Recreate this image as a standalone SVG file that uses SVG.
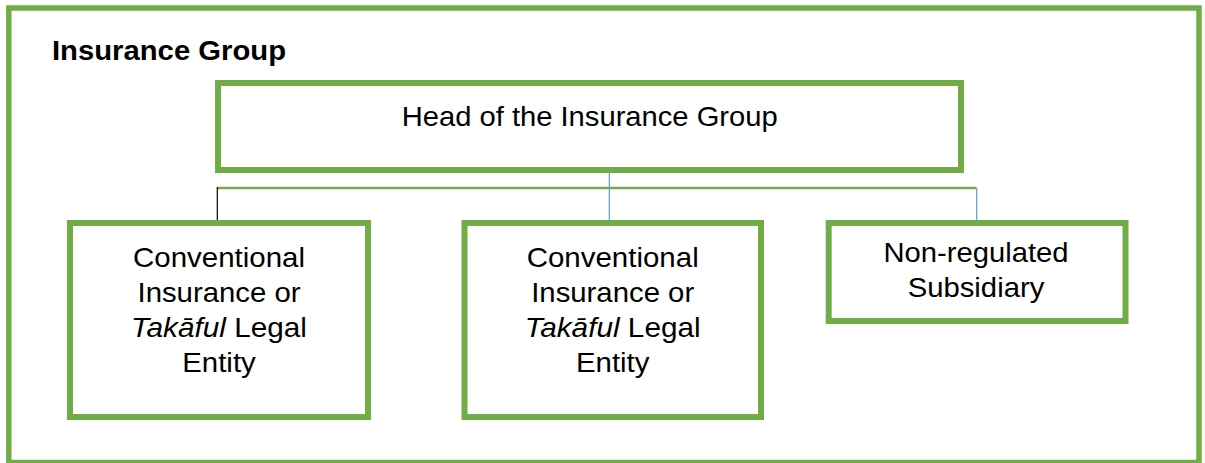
<svg xmlns="http://www.w3.org/2000/svg" width="1205" height="463" viewBox="0 0 1205 463">
  <style>
    .box { fill: #FFFFFF; stroke: #70AD47; stroke-width: 6; }
    .frame { fill: #FFFFFF; stroke: #70AD47; stroke-width: 5.5; }
    .label { font-family: "Liberation Sans", Arial, sans-serif; font-size: 27.5px; fill: #000000; text-anchor: middle; }
    .title { font-family: "Liberation Sans", Arial, sans-serif; font-size: 28px; font-weight: bold; fill: #000000; }
    .bus { stroke: #70AD47; stroke-width: 2.5; fill: none; }
    .drop-blue { stroke: #5B9BD5; stroke-width: 1.2; fill: none; }
    .drop-black { stroke: #000000; stroke-width: 1.2; fill: none; }
  </style>

  <!-- outer group frame -->
  <g id="insurance-group">
    <rect class="frame" x="8.8" y="8" width="1190.2" height="454.5"/>
    <text class="title" x="52" y="60" textLength="234" lengthAdjust="spacingAndGlyphs">Insurance Group</text>
  </g>

  <!-- connectors -->
  <g id="connectors">
    <line class="bus" x1="217" y1="188" x2="976.5" y2="188"/>
    <line class="drop-black" x1="217.3" y1="187" x2="217.3" y2="224"/>
    <line class="drop-blue" x1="609.3" y1="167" x2="609.3" y2="221"/>
    <line class="drop-blue" x1="976.7" y1="188" x2="976.7" y2="221"/>
  </g>

  <!-- head entity -->
  <g id="head">
    <rect class="box" x="218" y="83" width="743" height="87"/>
    <text class="label" x="589.7" y="126" textLength="376" lengthAdjust="spacingAndGlyphs">Head of the Insurance Group</text>
  </g>

  <!-- first licensed entity -->
  <g id="entity-1">
    <rect class="box" x="70" y="223" width="298" height="194"/>
    <text class="label" x="219" y="266.7" textLength="172" lengthAdjust="spacingAndGlyphs">Conventional</text>
    <text class="label" x="219" y="301.5" textLength="163" lengthAdjust="spacingAndGlyphs">Insurance or</text>
    <text class="label" x="219" y="336.5" textLength="176" lengthAdjust="spacingAndGlyphs"><tspan font-style="italic">Takāful</tspan> Legal</text>
    <text class="label" x="219" y="371.5" textLength="73.5" lengthAdjust="spacingAndGlyphs">Entity</text>
  </g>

  <!-- second licensed entity -->
  <g id="entity-2">
    <rect class="box" x="464.5" y="223" width="296.5" height="194"/>
    <text class="label" x="612.7" y="266.7" textLength="172" lengthAdjust="spacingAndGlyphs">Conventional</text>
    <text class="label" x="612.7" y="301.5" textLength="163" lengthAdjust="spacingAndGlyphs">Insurance or</text>
    <text class="label" x="612.7" y="336.5" textLength="176" lengthAdjust="spacingAndGlyphs"><tspan font-style="italic">Takāful</tspan> Legal</text>
    <text class="label" x="612.7" y="371.5" textLength="73.5" lengthAdjust="spacingAndGlyphs">Entity</text>
  </g>

  <!-- non-regulated subsidiary -->
  <g id="subsidiary">
    <rect class="box" x="828.7" y="223" width="296.8" height="98"/>
    <text class="label" x="976" y="262.3" textLength="185" lengthAdjust="spacingAndGlyphs">Non-regulated</text>
    <text class="label" x="976" y="296.7" textLength="136.6" lengthAdjust="spacingAndGlyphs">Subsidiary</text>
  </g>
</svg>
